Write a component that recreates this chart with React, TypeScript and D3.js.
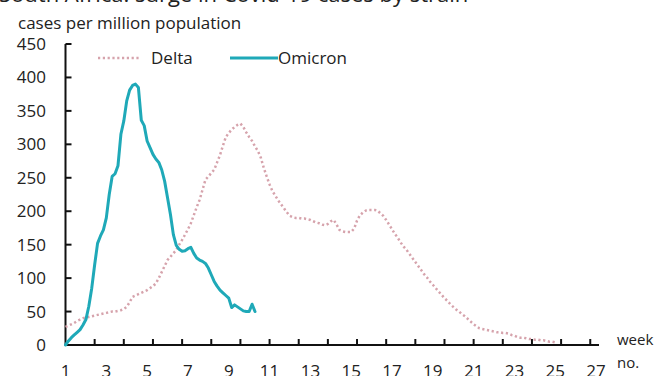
import React from "react";
import * as d3 from "d3";

const title = "South Africa: surge in Covid-19 cases by strain";
const yLabel = "cases per million population";
const seriesNames = ["Delta", "Omicron"];
const yTicks = [0, 50, 100, 150, 200, 250, 300, 350, 400, 450];
const weekLabels = [1, 3, 5, 7, 9, 11, 13, 15, 17, 19, 21, 23, 25, 27];
const xTickDays = [10, 20, 30, 40, 50, 60, 70, 80, 90, 100, 110, 120, 130, 140, 150, 160, 170, 180];

// daily values starting at week 1, day 0
const delta = [
  27, 29, 31, 33, 36, 38, 40, 41, 42, 43, 44, 45, 46, 47, 48, 49, 50, 50, 51, 52,
  54, 57, 64, 72, 74, 76, 78, 80, 82, 85, 88, 92, 100, 109, 118, 127, 132, 137, 142, 150,
  157, 165, 173, 182, 194, 206, 217, 232, 247, 252, 257, 262, 273, 284, 298, 311, 317, 322, 326, 329,
  331, 326, 318, 311, 305, 297, 290, 280, 265, 252, 240, 230, 223, 216, 210, 204, 198, 193, 191, 190,
  190, 189, 189, 188, 187, 185, 183, 182, 180, 179, 181, 185, 187, 180, 172, 170, 169, 169, 169, 174,
  186, 194, 198, 201, 202, 202, 202, 201, 197, 193, 187, 180, 173, 166, 160, 153, 147, 142, 136, 130,
  124, 118, 112, 106, 101, 95, 90, 85, 80, 75, 70, 66, 61, 57, 53, 50, 46, 43, 39, 35,
  31, 28, 25, 24, 23, 22, 21, 20, 19, 19, 18, 18, 17, 15, 14, 12, 11, 11, 10, 9,
  9, 8, 8, 7, 7, 6, 5, 5, 4,
];
const omicron = [
  0, 6, 11, 15, 19, 23, 30, 38, 58, 85, 120, 152, 163, 172, 190, 225, 252, 256, 268, 315,
  335, 365, 381, 388, 390, 385, 336, 328, 305, 295, 285, 278, 273, 262, 245, 220, 195, 165, 149, 143,
  140, 141, 144, 146, 137, 130, 127, 125, 122, 115, 105, 95, 88, 82, 78, 74, 70, 56, 60, 57,
  54, 51, 50, 50, 61, 50,
];

const W = 655;
const H = 376;
const FONT = "'Open Sans', 'Noto Sans', sans-serif";
const TEXT = "#222";
const DELTA_COLOR = "#d6a3ac";
const OMI_COLOR = "#1fa9b8";

export default function App() {
  const x = d3.scaleLinear().domain([0, 183]).range([65.5, 599]);
  const y = d3.scaleLinear().domain([0, 450]).range([345, 44]);
  const line = d3
    .line<number>()
    .x((_, i) => x(i))
    .y((v) => y(v));

  return (
    <div style={{ position: "fixed", left: 0, top: 0 }}>
      <svg width={W} height={H} style={{ display: "block", background: "#fff" }} fontFamily={FONT}>
        <rect width={W} height={H} fill="#fff" />
        <text x={-1} y={1.5} fontSize={22} fill={TEXT}>{title}</text>
        <text x={18} y={29} fontSize={17} fill={TEXT}>{yLabel}</text>

        {/* y axis */}
        <line x1={x(0)} x2={x(0)} y1={y(450)} y2={y(0)} stroke="#111" strokeWidth={2} />
        {yTicks.map((t) => (
          <g key={t}>
            <line x1={x(0)} x2={x(0) + 6} y1={y(t)} y2={y(t)} stroke="#111" strokeWidth={2} />
            <text x={46} y={y(t)} dy="0.35em" textAnchor="end" fontSize={17} fill={TEXT}>
              {t}
            </text>
          </g>
        ))}

        {/* x axis */}
        <line x1={x(0) - 1} x2={x(183)} y1={y(0)} y2={y(0)} stroke="#111" strokeWidth={2} />
        {xTickDays.map((d) => (
          <line key={d} x1={x(d)} x2={x(d)} y1={y(0)} y2={y(0) - 6} stroke="#111" strokeWidth={2} />
        ))}
        {weekLabels.map((w) => (
          <text key={w} x={x((w - 1) * 7)} y={377} textAnchor="middle" fontSize={17} fill={TEXT}>
            {w}
          </text>
        ))}
        <text x={617} y={345} fontSize={15} fill={TEXT}>week</text>
        <text x={617} y={368} fontSize={15} fill={TEXT}>no.</text>

        {/* series */}
        <path
          d={line(delta) || ""}
          fill="none"
          stroke={DELTA_COLOR}
          strokeWidth={2.5}
          strokeDasharray="2.2 2.6"
        />
        <path
          d={line(omicron) || ""}
          fill="none"
          stroke={OMI_COLOR}
          strokeWidth={3}
          strokeLinejoin="round"
          strokeLinecap="round"
        />

        {/* legend */}
        <line x1={98} x2={140} y1={58} y2={58} stroke={DELTA_COLOR} strokeWidth={2.5} strokeDasharray="2.2 2.6" />
        <text x={151} y={58} dy="0.35em" fontSize={17} fill={TEXT}>{seriesNames[0]}</text>
        <line x1={230} x2={278} y1={58} y2={58} stroke={OMI_COLOR} strokeWidth={3} />
        <text x={278} y={58} dy="0.35em" fontSize={17} fill={TEXT}>{seriesNames[1]}</text>
      </svg>
    </div>
  );
}
